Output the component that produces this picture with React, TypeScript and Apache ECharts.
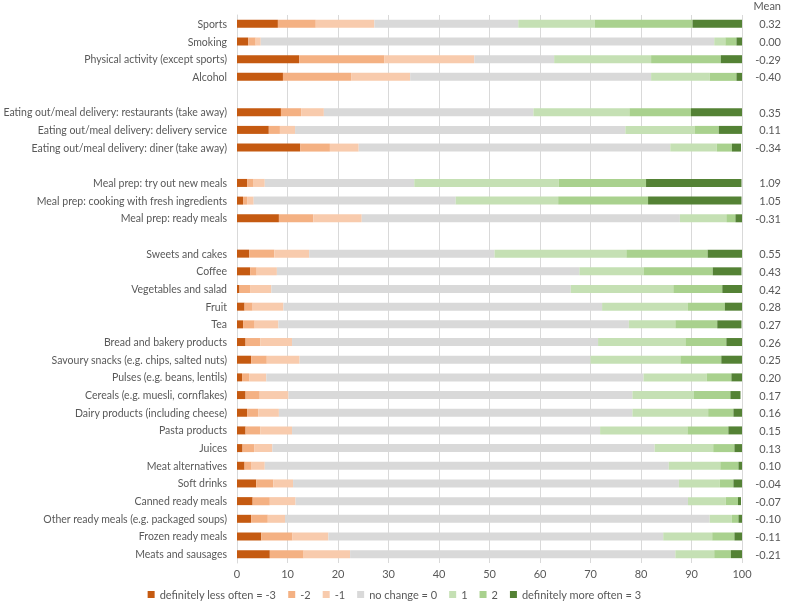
import React, { useEffect, useRef } from "react";
import * as echarts from "echarts";

const categories = [
  "Sports",
  "Smoking",
  "Physical activity (except sports)",
  "Alcohol",
  " ",
  "Eating out/meal delivery: restaurants (take away)",
  "Eating out/meal delivery: delivery service",
  "Eating out/meal delivery: diner (take away)",
  "  ",
  "Meal prep: try out new meals",
  "Meal prep: cooking with fresh ingredients",
  "Meal prep: ready meals",
  "   ",
  "Sweets and cakes",
  "Coffee",
  "Vegetables and salad",
  "Fruit",
  "Tea",
  "Bread and bakery products",
  "Savoury snacks (e.g. chips, salted nuts)",
  "Pulses (e.g. beans, lentils)",
  "Cereals (e.g. muesli, cornflakes)",
  "Dairy products (including cheese)",
  "Pasta products",
  "Juices",
  "Meat alternatives",
  "Soft drinks",
  "Canned ready meals",
  "Other ready meals (e.g. packaged soups)",
  "Frozen ready meals",
  "Meats and sausages",
];

const meanLabels = [
  "0.32", "0.00", "-0.29", "-0.40", "",
  "0.35", "0.11", "-0.34", "",
  "1.09", "1.05", "-0.31", "",
  "0.55", "0.43", "0.42", "0.28", "0.27", "0.26", "0.25", "0.20",
  "0.17", "0.16", "0.15", "0.13", "0.10", "-0.04", "-0.07", "-0.10", "-0.11", "-0.21",
];

const seriesNames = [
  "definitely less often = -3",
  "-2",
  "-1",
  "no change = 0",
  "1",
  "2",
  "definitely more often = 3",
];

const G = null;
const lessM3 = [8.1, 2.2, 12.3, 9.1, G, 8.7, 6.3, 12.5, G, 2.0, 1.2, 8.3, G, 2.4, 2.6, 0.5, 1.5, 1.2, 1.7, 2.8, 1.0, 1.7, 2.0, 1.7, 1.1, 1.5, 3.8, 3.1, 2.8, 4.8, 6.5];
const lessM2 = [7.5, 1.5, 16.9, 13.5, G, 4.0, 2.2, 5.9, G, 1.3, 0.8, 6.8, G, 5.0, 1.3, 2.2, 1.6, 2.3, 2.9, 3.1, 1.4, 2.8, 2.2, 2.9, 2.3, 1.4, 3.4, 3.4, 3.3, 6.2, 6.7];
const lessM1 = [11.6, 1.0, 17.8, 11.7, G, 4.5, 3.0, 5.7, G, 2.2, 1.3, 9.6, G, 6.9, 4.0, 4.1, 6.1, 4.7, 6.3, 6.5, 3.4, 5.7, 4.1, 6.3, 3.6, 2.6, 3.9, 5.1, 3.4, 7.1, 9.2];
const noChange = [28.5, 89.8, 15.8, 47.7, G, 41.5, 65.4, 61.7, G, 29.6, 40.0, 63.0, G, 36.7, 59.9, 59.3, 63.1, 69.4, 60.6, 57.6, 74.7, 68.1, 70.0, 61.0, 75.7, 80.0, 76.4, 77.7, 84.1, 66.3, 64.4];
const moreP1 = [15.1, 2.2, 19.2, 11.6, G, 19.0, 13.7, 9.2, G, 28.6, 20.3, 9.2, G, 26.1, 12.7, 20.3, 17.0, 9.2, 17.3, 17.8, 12.5, 12.1, 15.0, 17.3, 11.6, 10.2, 8.1, 7.5, 4.4, 9.7, 7.7];
const moreP2 = [19.4, 2.2, 13.8, 5.3, G, 12.2, 4.8, 3.0, G, 17.3, 17.8, 1.8, G, 16.1, 13.7, 9.7, 7.3, 8.3, 8.1, 8.1, 4.9, 7.3, 5.0, 8.1, 4.2, 3.6, 2.7, 2.4, 1.3, 4.4, 3.3];
const moreP3 = [9.8, 1.1, 4.2, 1.1, G, 10.2, 4.6, 1.8, G, 18.9, 18.5, 1.3, G, 6.8, 5.7, 4.0, 3.4, 4.8, 3.1, 4.1, 2.2, 2.0, 1.7, 2.7, 1.5, 0.7, 1.7, 0.6, 0.7, 1.5, 2.2];

const seriesValues = [lessM3, lessM2, lessM1, noChange, moreP1, moreP2, moreP3];
const colors = ["#C55A11", "#F4B183", "#F8CBAD", "#D9D9D9", "#C5E0B4", "#A9D18E", "#548235"];
const xTicks = { min: 0, max: 100, interval: 10 };

const FONT = "Lato, 'Open Sans', sans-serif";
const TXT = "#595959";

export default function App() {
  const ref = useRef<HTMLDivElement>(null);
  useEffect(() => {
    if (!ref.current) return;
    const chart = echarts.init(ref.current, null, { renderer: "svg" });
    chart.setOption({
      animation: false,
      textStyle: { fontFamily: FONT },
      grid: {
        left: 237,
        right: 47,
        top: 15,
        bottom: 42,
        containLabel: false,
        outerBoundsMode: "none",
      },
      xAxis: {
        type: "value",
        min: xTicks.min,
        max: xTicks.max,
        interval: xTicks.interval,
        axisLine: { show: false },
        axisTick: { show: false },
        axisLabel: { color: TXT, fontSize: 11, fontFamily: FONT, margin: 5 },
        splitLine: { show: true, lineStyle: { color: "#D9D9D9", width: 1 } },
      },
      yAxis: [
        {
          type: "category",
          data: categories,
          inverse: true,
          axisLine: { show: true, lineStyle: { color: "#D9D9D9" } },
          axisTick: { show: false },
          axisLabel: { color: TXT, fontSize: 10.5, fontFamily: FONT, margin: 10 },
        },
        {
          type: "category",
          data: meanLabels,
          inverse: true,
          position: "right",
          axisLine: { show: false },
          axisTick: { show: false },
          axisLabel: { color: TXT, fontSize: 11, fontFamily: FONT, margin: 39, align: "right" },
        },
      ],
      legend: {
        top: 588,
        left: "center",
        padding: 0,
        itemWidth: 7,
        itemHeight: 7,
        itemGap: 12,
        icon: "rect",
        textStyle: { color: TXT, fontSize: 11, fontFamily: FONT, lineHeight: 13 },
        data: seriesNames,
      },
      graphic: [
        {
          type: "text",
          right: 8,
          top: 0,
          style: { text: "Mean", fill: TXT, font: `11px ${FONT}` },
        },
      ],
      series: seriesValues.map((vals, i) => ({
        name: seriesNames[i],
        type: "bar",
        stack: "total",
        barWidth: 8,
        yAxisIndex: 0,
        itemStyle: { color: colors[i] },
        data: vals.map((v) => (v === null ? "-" : v)),
      })),
    });
    return () => chart.dispose();
  }, []);
  return (
    <div
      ref={ref}
      style={{ position: "fixed", left: 0, top: 0, width: 789, height: 605 }}
    />
  );
}
